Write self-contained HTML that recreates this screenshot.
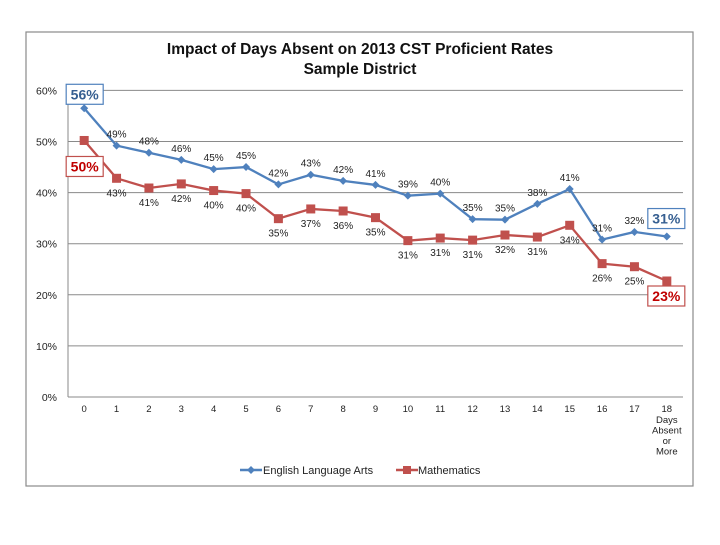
<!DOCTYPE html>
<html><head><meta charset="utf-8"><style>
body{margin:0;background:#fff;}
svg text{font-family:"Liberation Sans",Arial,sans-serif;}
</style></head><body>
<svg width="720" height="540" viewBox="0 0 720 540">
<rect x="26" y="32" width="667" height="454" fill="#fff" stroke="#8a8a8a" stroke-width="1.2"/>
<text x="360" y="54" text-anchor="middle" font-size="15.5" font-weight="bold" fill="#111">Impact of Days Absent on 2013 CST Proficient Rates</text>
<text x="360" y="74" text-anchor="middle" font-size="15.5" font-weight="bold" fill="#111">Sample District</text>
<g id="grid"></g><g id="series"></g>
<g>
<line x1="240" y1="470" x2="262" y2="470" stroke="#4f81bd" stroke-width="2.5"/>
<path d="M251 466 L255 470 L251 474 L247 470Z" fill="#4f81bd"/>
<text x="263" y="474" font-size="11" fill="#222">English Language Arts</text>
<line x1="396" y1="470" x2="418" y2="470" stroke="#c0504d" stroke-width="2.5"/>
<rect x="403" y="466" width="8" height="8" fill="#c0504d"/>
<text x="418" y="474" font-size="11" fill="#222">Mathematics</text>
</g>
</svg>
<script>
const categories=["0","1","2","3","4","5","6","7","8","9","10","11","12","13","14","15","16","17","18"];
const elaValues=[56.5,49.2,47.8,46.4,44.6,45.0,41.6,43.5,42.3,41.5,39.4,39.8,34.8,34.7,37.8,40.7,30.8,32.3,31.4];
const mathValues=[50.2,42.8,40.9,41.7,40.4,39.8,34.9,36.8,36.4,35.1,30.6,31.1,30.7,31.7,31.3,33.6,26.1,25.5,22.7];
const elaLabels=["56%","49%","48%","46%","45%","45%","42%","43%","42%","41%","39%","40%","35%","35%","38%","41%","31%","32%","31%"];
const mathLabels=["50%","43%","41%","42%","40%","40%","35%","37%","36%","35%","31%","31%","31%","32%","31%","34%","26%","25%","23%"];
const yTicks=[0,10,20,30,40,50,60];
const NS="http://www.w3.org/2000/svg";
const X0=68,X1=683,Y0=397,PER10=51.1;
const bw=(X1-X0)/categories.length;
function xs(i){return X0+bw*(i+0.5);}
function ys(v){return Y0-v/10*PER10;}
function mk(tag,attrs,parent,txt){const e=document.createElementNS(NS,tag);for(const k in attrs)e.setAttribute(k,attrs[k]);if(txt!==undefined)e.textContent=txt;parent.appendChild(e);return e;}
const grid=document.getElementById('grid'),ser=document.getElementById('series');
yTicks.forEach(t=>{
 const l=mk('line',{x1:X0,x2:X1,y1:ys(t),y2:ys(t),stroke:'#8a8a8a','stroke-width':1},grid);
 
 
 const tx=mk('text',{x:57,y:ys(t)+4,'text-anchor':'end','font-size':10.5,fill:'#222'},grid,t+'%');
 
 
});
mk('line',{x1:X0,x2:X0,y1:ys(60),y2:Y0,stroke:'#8a8a8a','stroke-width':1},grid);
categories.forEach((c,i)=>{
 const tx=mk('text',{x:xs(i),y:Y0+15,'text-anchor':'middle','font-size':9.5,fill:'#222'},grid,c);
 
 
});
["Days","Absent","or","More"].forEach((w,k)=>{
 const tx=mk('text',{x:xs(18),y:Y0+26+k*10.5,'text-anchor':'middle','font-size':9.5,fill:'#222'},grid,w);
 
 
});
function drawSeries(vals,labels,color,name,above,marker){
 const pl=mk('polyline',{points:vals.map((v,i)=>xs(i)+','+ys(v)).join(' '),fill:'none',stroke:color,'stroke-width':2.3},ser);
 
 
 vals.forEach((v,i)=>{
  const x=xs(i),y=ys(v);let m;
  if(marker==='d')m=mk('path',{d:`M${x} ${y-4}L${x+4} ${y}L${x} ${y+4}L${x-4} ${y}Z`,fill:color},ser);
  else m=mk('rect',{x:x-4.5,y:y-4.5,width:9,height:9,fill:color},ser);
  
  
  if(i===0||i===vals.length-1){
   let bx,by;
   if(i===0){bx=x-18;by=above?y-24:y+16;}
   else{bx=x-19;by=above?y-28:y+5;}
   const r=mk('rect',{x:bx,y:by,width:37,height:20,fill:'#fff',stroke:color,'stroke-width':1.2},ser);
   
   
   const t=mk('text',{x:bx+18.5,y:by+15,'text-anchor':'middle','font-size':14,'font-weight':'bold',fill:color==='#4f81bd'?'#365f91':'#c00000'},ser,labels[i]);
   
   
  } else {
   const t=mk('text',{x:x,y:above?y-8:y+18,'text-anchor':'middle','font-size':10,fill:'#222'},ser,labels[i]);
   
   
  }
 });
}
drawSeries(mathValues,mathLabels,'#c0504d','math',false,'s');
drawSeries(elaValues,elaLabels,'#4f81bd','ela',true,'d');
</script>
</body></html>
